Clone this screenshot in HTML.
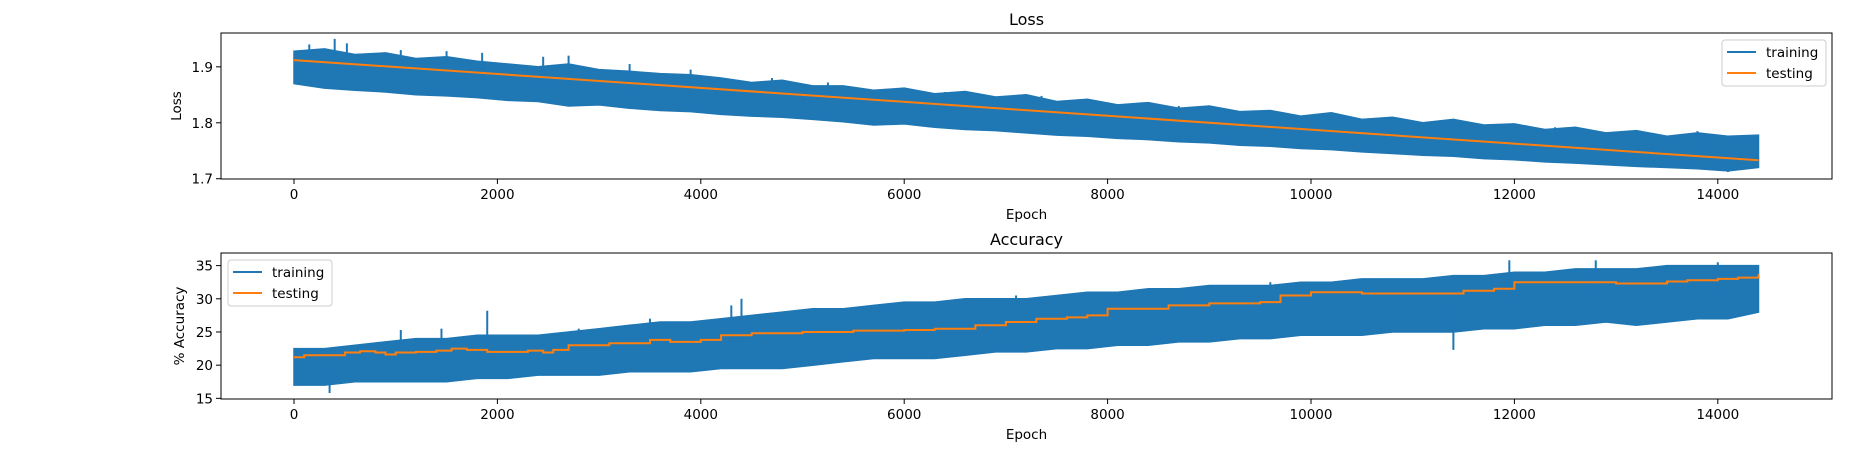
<!DOCTYPE html>
<html><head><meta charset="utf-8"><style>
body{margin:0;background:#fff;}
svg{display:block;font-family:"DejaVu Sans","Liberation Sans",sans-serif;}
</style></head><body>
<svg id="chart" width="1876" height="454" viewBox="0 0 1876 454" xmlns="http://www.w3.org/2000/svg"></svg>
<script>
const xTicks=[0,2000,4000,6000,8000,10000,12000,14000];
const lossTicks=[1.7,1.8,1.9];
const accTicks=[15,20,25,30,35];
const lossTrainHi=[1.928,1.932,1.922,1.925,1.915,1.918,1.91,1.905,1.9,1.905,1.895,1.892,1.888,1.886,1.88,1.872,1.876,1.866,1.866,1.858,1.862,1.852,1.856,1.846,1.85,1.838,1.842,1.832,1.836,1.826,1.83,1.82,1.822,1.812,1.818,1.806,1.81,1.8,1.806,1.796,1.798,1.788,1.792,1.782,1.786,1.776,1.782,1.776,1.778];
const lossTrainLo=[1.87,1.862,1.858,1.855,1.85,1.848,1.845,1.84,1.838,1.83,1.832,1.826,1.822,1.82,1.815,1.812,1.81,1.806,1.802,1.796,1.798,1.792,1.788,1.786,1.782,1.778,1.776,1.772,1.77,1.766,1.764,1.76,1.758,1.754,1.752,1.748,1.745,1.742,1.74,1.736,1.734,1.73,1.728,1.725,1.722,1.72,1.718,1.714,1.72];
const lossSpikeEp=[150,400,520,1050,1500,1850,2450,2700,3300,3900,4700,5250,6400,7350,8700,9200,10300,11200,12400,13200,13800,14100];
const lossSpikeVal=[1.94,1.95,1.942,1.93,1.928,1.925,1.918,1.92,1.905,1.895,1.88,1.872,1.855,1.848,1.83,1.812,1.808,1.79,1.792,1.78,1.785,1.712];
const lossTestEpochs=[0,14400];
const lossTest=[1.912,1.733];
const accTrainHi=[22.5,22.5,23,23.5,24,24,24.5,24.5,24.5,25,25.5,26,26.5,26.5,27,27.5,28,28.5,28.5,29,29.5,29.5,30,30,30,30.5,31,31,31.5,31.5,32,32,32,32.5,32.5,33,33,33,33.5,33.5,34,34,34.5,34.5,34.5,35,35,35,35];
const accTrainLo=[17,17,17.5,17.5,17.5,17.5,18,18,18.5,18.5,18.5,19,19,19,19.5,19.5,19.5,20,20.5,21,21,21,21.5,22,22,22.5,22.5,23,23,23.5,23.5,24,24,24.5,24.5,24.5,25,25,25,25.5,25.5,26,26,26.5,26,26.5,27,27,28];
const accSpikeEp=[350,1050,1450,1900,2800,3500,4300,4400,5200,6000,7100,8100,8900,9600,10800,11400,11950,12800,13500,14000,14200];
const accSpikeVal=[15.8,25.3,25.5,28.2,25.5,27,29,30,28,29.5,30.5,31,31.5,32.5,33,22.3,35.8,35.8,27.5,35.5,28.5];
const accTestEpochs=[0,100,400,500,650,800,900,1000,1200,1400,1550,1700,1900,2100,2300,2450,2550,2700,3000,3100,3500,3700,4000,4200,4500,4700,5000,5500,6000,6300,6700,7000,7300,7600,7800,8000,8300,8600,9000,9500,9700,10000,10500,11000,11500,11800,12000,12500,13000,13500,13700,14000,14200,14400];
const accTest=[21.2,21.5,21.5,21.9,22.1,21.9,21.6,21.9,22,22.2,22.5,22.3,22,22,22.2,21.9,22.3,23,23,23.3,23.8,23.5,23.8,24.5,24.8,24.8,25,25.2,25.3,25.5,26,26.5,27,27.2,27.5,28.5,28.5,29,29.3,29.5,30.5,31,30.8,30.8,31.2,31.5,32.5,32.5,32.3,32.6,32.8,33,33.2,33.7];

const svg=document.getElementById('chart');
const NS='http://www.w3.org/2000/svg';
function mk(tag,attrs){const e=document.createElementNS(NS,tag);for(const k in attrs)e.setAttribute(k,attrs[k]);svg.appendChild(e);return e;}
const L=221,R=1832;
function xs(e){return 294+(e/2000)*203.4;}
function interp(arr,e){const n=arr.length;const f=e/14400*(n-1);const i=Math.min(n-2,Math.floor(f));const t=f-i;return arr[i]*(1-t)+arr[i+1]*t;}
function panel(cfg){
  const {top,bot,ymin,ymax,ticks,fmt,hi,lo,sEp,sVal,tEp,tVal,title,ylabel,legendX,legendY,name}=cfg;
  const ys=v=>bot-(v-ymin)/(ymax-ymin)*(bot-top);
  const n=hi.length;
  let pts=[];
  for(let i=0;i<n;i++)pts.push(xs(i*14400/(n-1)).toFixed(1)+','+ys(hi[i]).toFixed(1));
  for(let i=n-1;i>=0;i--)pts.push(xs(i*14400/(n-1)).toFixed(1)+','+ys(lo[i]).toFixed(1));
  let band=mk('polygon',{points:pts.join(' '),fill:'#1f77b4',stroke:'#1f77b4','stroke-width':1.5});
  
  
  for(let i=0;i<sEp.length;i++){
    const mid=(interp(hi,sEp[i])+interp(lo,sEp[i]))/2;
    let s=mk('line',{x1:xs(sEp[i]),y1:ys(mid),x2:xs(sEp[i]),y2:ys(sVal[i]),stroke:'#1f77b4','stroke-width':2});
    
    
  }
  let tp=[];
  for(let i=0;i<tEp.length;i++){
    if(tEp.length>2 && i>0) tp.push(xs(tEp[i]).toFixed(1)+','+ys(tVal[i-1]).toFixed(1));
    tp.push(xs(tEp[i]).toFixed(1)+','+ys(tVal[i]).toFixed(1));
  }
  let tl=mk('polyline',{points:tp.join(' '),fill:'none',stroke:'#ff7f0e','stroke-width':2});
  
  
  let fr=mk('rect',{x:L,y:top,width:R-L,height:bot-top,fill:'none',stroke:'#000','stroke-width':1});
  
  
  xTicks.forEach(t=>{
    const x=xs(t);
    let l=mk('line',{x1:x,y1:bot,x2:x,y2:bot+5,stroke:'#000'});
    
    
    let tx=mk('text',{x:x,y:bot+20,'text-anchor':'middle','font-size':13.5,fill:'#000'});
    tx.textContent=t;
    
    
  });
  ticks.forEach(t=>{
    const y=ys(t);
    let l=mk('line',{x1:L-5,y1:y,x2:L,y2:y,stroke:'#000'});
    
    
    let tx=mk('text',{x:L-8,y:y+5,'text-anchor':'end','font-size':13.5,fill:'#000'});
    tx.textContent=fmt(t);
    
    
  });
  let tt=mk('text',{x:(L+R)/2,y:top-8,'text-anchor':'middle','font-size':16,fill:'#000'});
  tt.textContent=title;
  
  
  let xl=mk('text',{x:(L+R)/2,y:bot+40,'text-anchor':'middle','font-size':13.5,fill:'#000'});
  xl.textContent='Epoch';
  
  
  const cy=(top+bot)/2;
  let yl=mk('text',{x:0,y:0,transform:`translate(${cfg.ylx},${cy}) rotate(-90)`,'text-anchor':'middle','font-size':13.5,fill:'#000'});
  yl.textContent=ylabel;
  
  
  let lg=mk('rect',{x:legendX,y:legendY,width:104,height:46,rx:3,fill:'#fff','fill-opacity':0.8,stroke:'#ccc'});
  
  
  [['training','#1f77b4'],['testing','#ff7f0e']].forEach((d,i)=>{
    const y=legendY+12+i*21;
    let l=mk('line',{x1:legendX+5,y1:y,x2:legendX+34,y2:y,stroke:d[1],'stroke-width':2});
    
    
    let t=mk('text',{x:legendX+44,y:y+5,'font-size':13.5,fill:'#000'});
    t.textContent=d[0];
    
    
  });
}
panel({name:'loss',top:33,bot:179,ymin:1.6995,ymax:1.9605,ticks:lossTicks,fmt:t=>t.toFixed(1),hi:lossTrainHi,lo:lossTrainLo,sEp:lossSpikeEp,sVal:lossSpikeVal,tEp:lossTestEpochs,tVal:lossTest,title:'Loss',ylabel:'Loss',legendX:1722,legendY:40,ylx:181});
panel({name:'accuracy',top:253,bot:399,ymin:14.9,ymax:36.9,ticks:accTicks,fmt:t=>t,hi:accTrainHi,lo:accTrainLo,sEp:accSpikeEp,sVal:accSpikeVal,tEp:accTestEpochs,tVal:accTest,title:'Accuracy',ylabel:'% Accuracy',legendX:228,legendY:260,ylx:184});
</script>
</body></html>
